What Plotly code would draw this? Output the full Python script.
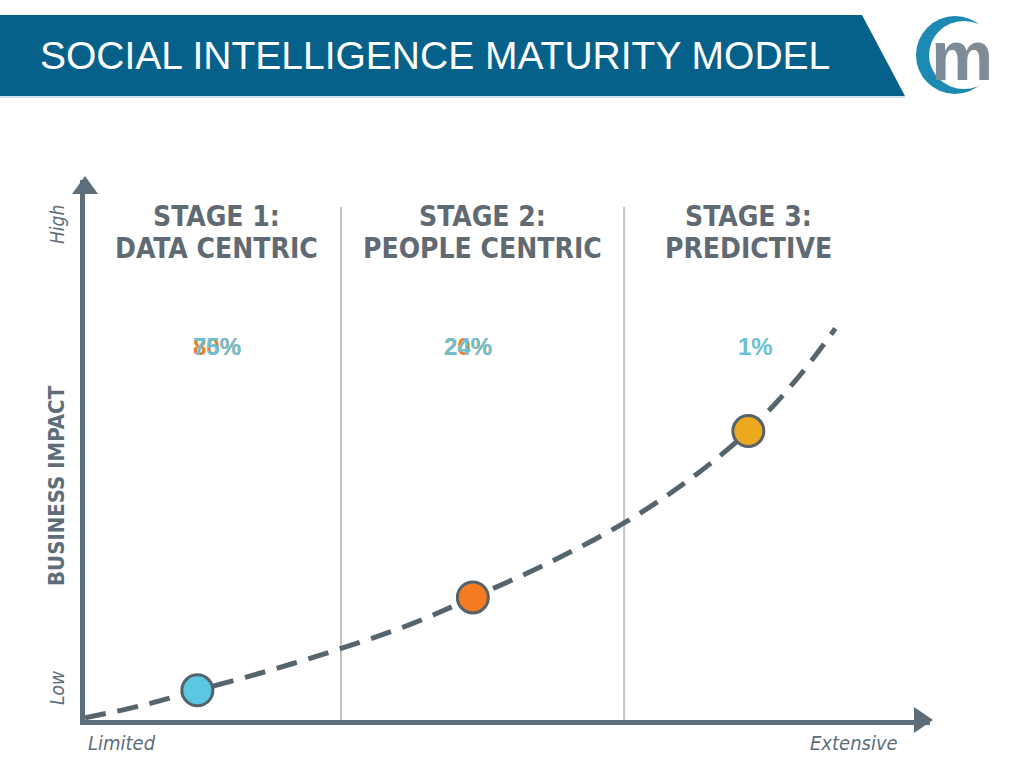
import plotly.graph_objects as go

# curve (maturity 0-100 vs business impact 0-100)
curve_x = [0, 6.5, 13.3, 21.9, 30.4, 38.5, 45.9, 55.0, 63.8, 71.6, 78.5, 84.0, 88.8]
curve_y = [0.4, 2.6, 5.5, 9.2, 13.3, 17.7, 22.7, 29.2, 36.5, 44.6, 53.5, 62.7, 72.5]

stage_nums = ["STAGE 1:", "STAGE 2:", "STAGE 3:"]
stage_names = ["DATA CENTRIC", "PEOPLE CENTRIC", "PREDICTIVE"]
stage_x = [13.3, 45.9, 78.5]
stage_y = [5.5, 22.7, 53.5]
stage_colors = ["#5bc7e0", "#f47b20", "#eaa91f"]
pct_orange = ["80%", "20%", ""]
pct_teal = ["75%", "24%", "1%"]
stage_bounds = [30.3, 63.8]

W, H = 1024, 768
AXIS = "#5d6d7a"
GREY = "#5f6a73"
COND = "DejaVu Sans Condensed, Roboto, sans-serif"


def px(x):
    return x / W


def py(y):
    return 1 - y / H


fig = go.Figure()

fig.add_trace(go.Scatter(
    x=curve_x, y=curve_y, mode="lines",
    line=dict(color="#56646e", width=5, dash="21px,12px", shape="spline"),
    hoverinfo="skip", cliponaxis=False,
))
fig.add_trace(go.Scatter(
    x=stage_x, y=stage_y, mode="markers",
    marker=dict(size=31, color=stage_colors, line=dict(color="#55626b", width=3)),
    cliponaxis=False,
))

shapes = []
# header band
shapes.append(dict(
    type="path", xref="paper", yref="paper",
    path=f"M 0,{py(15)} L {px(862)},{py(15)} L {px(905)},{py(96)} L 0,{py(96)} Z",
    fillcolor="#06618a", line=dict(width=0), layer="below",
))
shapes.append(dict(type="line", xref="paper", yref="paper",
                   x0=0, x1=px(905), y0=py(97), y1=py(97),
                   line=dict(color="#9cc3d6", width=1)))
# logo
shapes.append(dict(type="circle", xref="paper", yref="paper",
                   x0=px(916), x1=px(994), y0=py(94), y1=py(16),
                   fillcolor="#1c8ab3", line=dict(width=0)))
shapes.append(dict(type="circle", xref="paper", yref="paper",
                   x0=px(929), x1=px(999), y0=py(89), y1=py(21),
                   fillcolor="white", line=dict(width=0)))
# stage dividers
for b in stage_bounds:
    shapes.append(dict(type="line", xref="x", yref="y", x0=b, x1=b, y0=0, y1=95,
                       line=dict(color="#c3c3c3", width=2), layer="below"))
# arrowheads
shapes.append(dict(type="path", xref="paper", yref="paper",
                   path=f"M {px(72)},{py(194)} L {px(98)},{py(194)} L {px(85)},{py(176)} Z",
                   fillcolor=AXIS, line=dict(width=0)))
shapes.append(dict(type="path", xref="paper", yref="paper",
                   path=f"M {px(914)},{py(707)} L {px(914)},{py(733)} L {px(933)},{py(720)} Z",
                   fillcolor=AXIS, line=dict(width=0)))

annotations = [
    dict(text="SOCIAL INTELLIGENCE MATURITY MODEL", x=px(38), y=py(56),
         xanchor="left",
         font=dict(family="Liberation Sans", size=39, color="white")),
    dict(text="m", x=px(962), y=py(56),
         font=dict(family="Liberation Sans", size=70, color="#7d8c96", weight="bold")),
    dict(text="BUSINESS IMPACT", x=px(56), y=py(486), textangle=-90,
         font=dict(family=COND, size=22, color=AXIS, weight="bold")),
    dict(text="High", x=px(57), y=py(225), textangle=-90,
         font=dict(family=COND, size=19, color=AXIS, style="italic")),
    dict(text="Low", x=px(57), y=py(688), textangle=-90,
         font=dict(family=COND, size=19, color=AXIS, style="italic")),
    dict(text="Limited", x=px(86), y=py(743), xanchor="left",
         font=dict(family=COND, size=20, color=AXIS, style="italic")),
    dict(text="Extensive", x=px(900), y=py(743), xanchor="right",
         font=dict(family=COND, size=20, color=AXIS, style="italic")),
]
title_x = [15.6, 47.0, 78.5]
pct_x = [15.6, 45.3, 79.4]
for tx, num, name in zip(title_x, stage_nums, stage_names):
    for txt, ty in ((num, 93.2), (name, 87.3)):
        annotations.append(dict(text=txt, x=tx, y=ty, xref="x", yref="y",
                                font=dict(family=COND, size=28,
                                          color=GREY, weight="bold")))
for lx, o, t in zip(pct_x, pct_orange, pct_teal):
    for txt, col in ((o, "#ef7b2c"), (t, "#6cc0cf")):
        if txt:
            annotations.append(dict(text=txt, x=lx, y=69.2, xref="x", yref="y",
                                    font=dict(family="Liberation Sans", size=24,
                                              color=col, weight="bold")))
for a in annotations:
    a.setdefault("xref", "paper")
    a.setdefault("yref", "paper")
    a.setdefault("xanchor", "center")
    a.setdefault("yanchor", "middle")
    a.setdefault("showarrow", False)

fig.update_layout(
    width=W, height=H, margin=dict(l=0, r=0, t=0, b=0),
    paper_bgcolor="white", plot_bgcolor="white",
    showlegend=False, shapes=shapes, annotations=annotations,
    xaxis=dict(domain=[px(85), px(930)], range=[0, 100], showgrid=False,
               zeroline=False, showticklabels=False, ticks="",
               showline=True, linewidth=5, linecolor=AXIS),
    yaxis=dict(domain=[py(720), py(180)], range=[0, 100], showgrid=False,
               zeroline=False, showticklabels=False, ticks="",
               showline=True, linewidth=5, linecolor=AXIS),
)

fig.write_html("out.html", config={"displayModeBar": False},
               post_script="document.body.style.margin='0';")
